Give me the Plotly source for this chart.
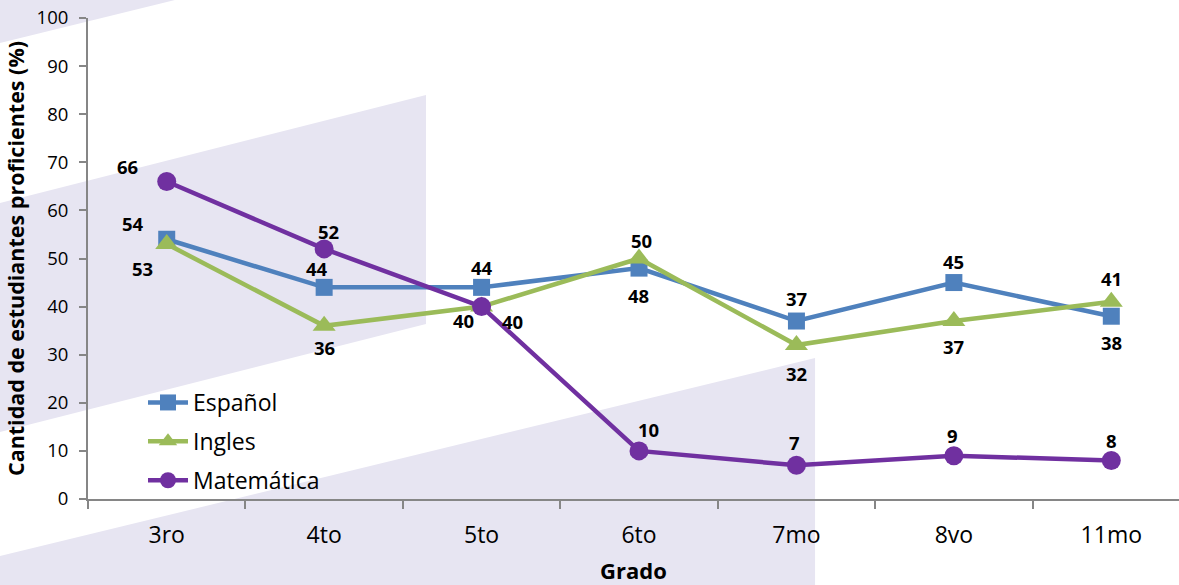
import plotly.graph_objects as go

grados = ["3ro", "4to", "5to", "6to", "7mo", "8vo", "11mo"]
espanol = [54, 44, 44, 48, 37, 45, 38]
ingles = [53, 36, 40, 50, 32, 37, 41]
matematica = [66, 52, 40, 10, 7, 9, 8]

# label offsets in pixels (dx, dy; dy positive = downward) per point
off_esp = [(-34, -16), (-7, -19), (0, -20), (-1, 27), (0, -23), (0, -21), (0, 26)]
off_ing = [(-24, 24), (0, 22), (-18, 14), (2, -18), (0, 28), (0, 25), (0, -23)]
off_mat = [(-39, -15), (4, -17), (31, 15), (9, -21), (-2, -23), (-1, -20), (0, -20)]

C_ESP = "#4F81BD"
C_ING = "#9BBB59"
C_MAT = "#7030A0"
LAV = "#E7E5F2"
FONT = "Open Sans"

L, T, W, H = 88, 18, 1091, 481


def px(x, y):
    return (x - L) / W, (T + H - y) / H


def poly(points):
    s = ""
    for i, (x, y) in enumerate(points):
        a, b = px(x, y)
        s += ("M" if i == 0 else "L") + f"{a:.4f},{b:.4f} "
    return s + "Z"


fig = go.Figure()
fig.add_trace(go.Scatter(x=grados, y=espanol, name="Español", mode="lines+markers",
                         legendgroup="e",
                         line=dict(color=C_ESP, width=4.5),
                         marker=dict(symbol="square", size=17, color=C_ESP)))
fig.add_trace(go.Scatter(x=grados, y=ingles, name="Ingles", mode="lines+markers",
                         legendgroup="i",
                         line=dict(color=C_ING, width=4.5),
                         marker=dict(symbol="triangle-up", size=20, color=C_ING)))
fig.add_trace(go.Scatter(x=grados, y=matematica, name="Matemática", mode="lines+markers",
                         legendgroup="m",
                         line=dict(color=C_MAT, width=4.5),
                         marker=dict(symbol="circle", size=19, color=C_MAT)))

anns = []
for vals, offs in [(espanol, off_esp), (ingles, off_ing), (matematica, off_mat)]:
    for g, v, (dx, dy) in zip(grados, vals, offs):
        anns.append(dict(x=g, y=v, text=f"<b>{v}</b>", showarrow=False,
                         xshift=dx, yshift=-dy,
                         font=dict(family=FONT, size=18.5, color="black")))

shapes = [
    dict(type="path", xref="paper", yref="paper", layer="below",
         path=poly([(0, 0), (175, 0), (0, 43)]), fillcolor=LAV, line=dict(width=0)),
    dict(type="path", xref="paper", yref="paper", layer="below",
         path=poly([(0, 203), (426, 95), (426, 324), (0, 432)]), fillcolor=LAV, line=dict(width=0)),
    dict(type="path", xref="paper", yref="paper", layer="below",
         path=poly([(0, 556), (815, 358), (815, 585), (0, 585)]), fillcolor=LAV, line=dict(width=0)),
]

fig.update_layout(
    width=1179, height=585,
    margin=dict(l=L, r=0, t=T, b=585 - T - H, autoexpand=False),
    paper_bgcolor="white", plot_bgcolor="rgba(0,0,0,0)",
    font=dict(family=FONT, color="black"),
    shapes=shapes, annotations=anns,
    legend=dict(x=px(143, 0)[0], y=px(0, 381)[1], xanchor="left", yanchor="top",
                bgcolor="rgba(0,0,0,0)", font=dict(family=FONT, size=23, color="black"),
                tracegroupgap=6, itemwidth=40),
    showlegend=True,
)
fig.update_xaxes(range=[-0.5, 6.43], showline=True, linecolor="#868686", linewidth=2,
                 ticks="outside", tickson="boundaries", ticklen=8, tickcolor="#868686", tickwidth=2,
                 showgrid=False, zeroline=False, automargin=False, ticklabelstandoff=14,
                 tickfont=dict(family=FONT, size=23, color="black"),
                 title=dict(text="<b>Grado</b>", font=dict(family=FONT, size=22, color="black"), standoff=15))
fig.update_yaxes(range=[0, 100], dtick=10, showline=True, linecolor="#868686", linewidth=2,
                 ticks="outside", ticklen=7, tickcolor="#868686", tickwidth=2,
                 showgrid=False, zeroline=False, automargin=False, ticklabelstandoff=7,
                 tickfont=dict(family=FONT, size=18.5, color="black"),
                 title=dict(text="<b>Cantidad de estudiantes proficientes (%)</b>",
                            font=dict(family=FONT, size=21.5, color="black"), standoff=6))

fig.write_html("out.html", config={"displayModeBar": False},
               post_script="document.body.style.margin='0';")
